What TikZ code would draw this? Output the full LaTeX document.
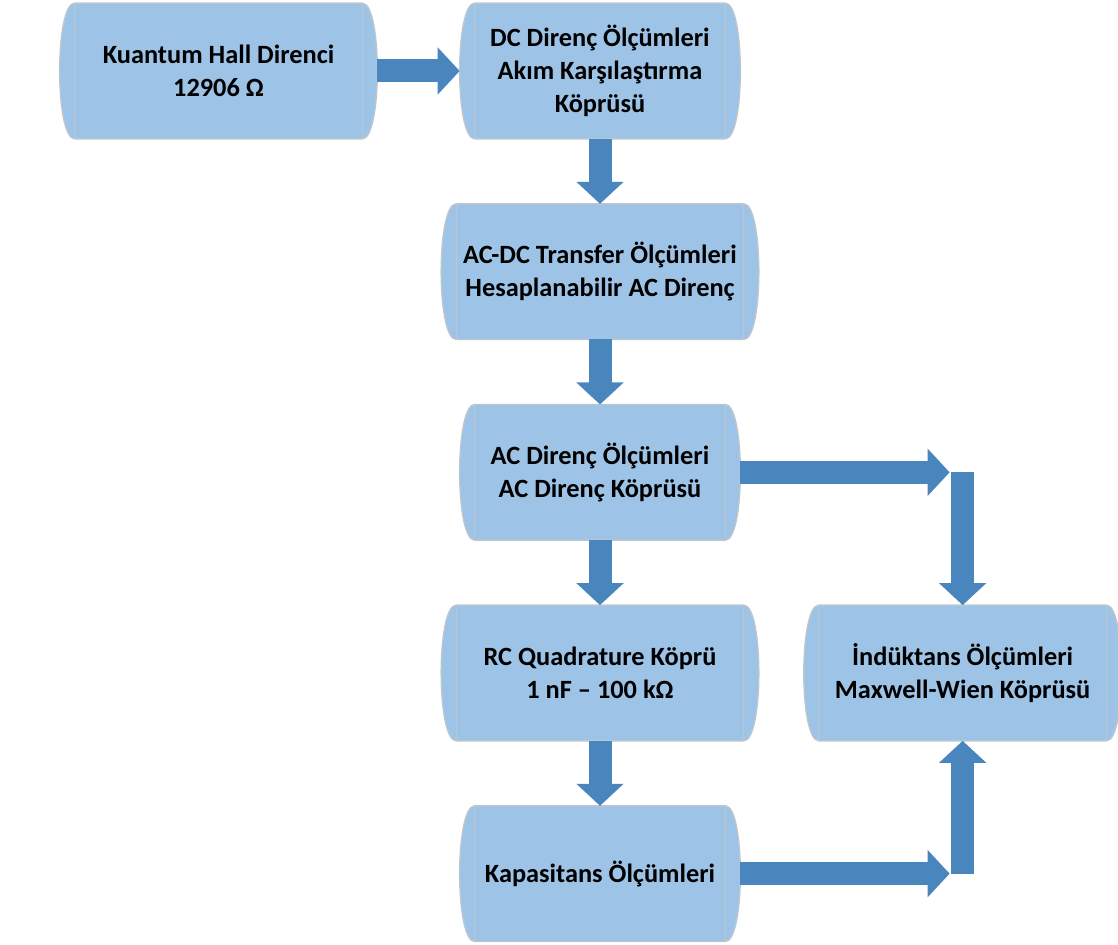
\documentclass[tikz,border=0pt]{standalone}
\usepackage{fontspec}
\setmainfont{Carlito}
\usetikzlibrary{positioning, arrows.meta, backgrounds}
\definecolor{drumfill}{HTML}{9DC3E6}
\definecolor{drumedge}{HTML}{BCC6D0}
\definecolor{arrowblue}{HTML}{4A86BE}
\tikzset{
    drum/.style={rectangle, minimum height=2.7cm, minimum width=5cm, align=center, inner sep=0pt, font=\fontsize{15}{18.7}\selectfont\bfseries},
    widedrum/.style={drum, minimum width=5.74cm},
    drumshape/.style={fill=drumfill, draw=drumedge, line width=0.8pt},
    drumline/.style={draw=drumedge, line width=0.6pt},
    blockarrow/.style={draw=arrowblue, line width=0.46cm, -{Triangle[length=0.44cm, width=0.92cm]}}
}

\begin{document}
\begin{tikzpicture}[x=0.02cm, y=-0.02cm]
    \useasboundingbox (0,0) rectangle (1118,945);
    % main chain
    \node[widedrum] (hall) at (218.5,71) {Kuantum Hall Direnci\\12906 Ω};
    \node[drum] (dc) at (600,71) {DC Direnç Ölçümleri\\Akım Karşılaştırma\\Köprüsü};
    \node[widedrum, below=1.3cm of dc] (acdc) {AC-DC Transfer Ölçümleri\\Hesaplanabilir AC Direnç};
    \node[drum, below=1.3cm of acdc] (acr) {AC Direnç Ölçümleri\\AC Direnç Köprüsü};
    \node[widedrum, below=1.3cm of acr] (rc) {RC Quadrature Köprü\\1 nF – 100 kΩ};
    \node[drum, below=1.3cm of rc] (cap) {Kapasitans Ölçümleri};
    \node[widedrum, right=1.5cm of rc] (ind) {İndüktans Ölçümleri\\Maxwell-Wien Köprüsü};

    % drum bodies with rounded ends
    \begin{scope}[on background layer]
        \foreach \n in {hall,dc,acdc,acr,rc,cap,ind}{
            \path[drumshape] (\n.north west) .. controls +(-0.4cm,0) and +(-0.4cm,0) .. (\n.south west)
                -- (\n.south east) .. controls +(0.4cm,0) and +(0.4cm,0) .. (\n.north east) -- cycle;
            \draw[drumline] (\n.north west) -- (\n.south west) (\n.north east) -- (\n.south east);
        }
    \end{scope}

    % arrows
    \draw[blockarrow] ([xshift=0.3cm]hall.east) -- ([xshift=-0.3cm]dc.west);
    \foreach \a/\b in {dc/acdc, acdc/acr, acr/rc, rc/cap}
        \draw[blockarrow] (\a.south) -- (\b.north);
    \coordinate (upturn) at (ind.north |- acr.east);
    \coordinate (downturn) at (ind.south |- cap.east);
    \draw[blockarrow] ([xshift=0.3cm]acr.east) -- ([xshift=-0.26cm]upturn);
    \draw[blockarrow] (upturn) -- (ind.north);
    \draw[blockarrow] ([xshift=0.3cm]cap.east) -- ([xshift=-0.26cm]downturn);
    \draw[blockarrow] (downturn) -- (ind.south);
\end{tikzpicture}
\end{document}
